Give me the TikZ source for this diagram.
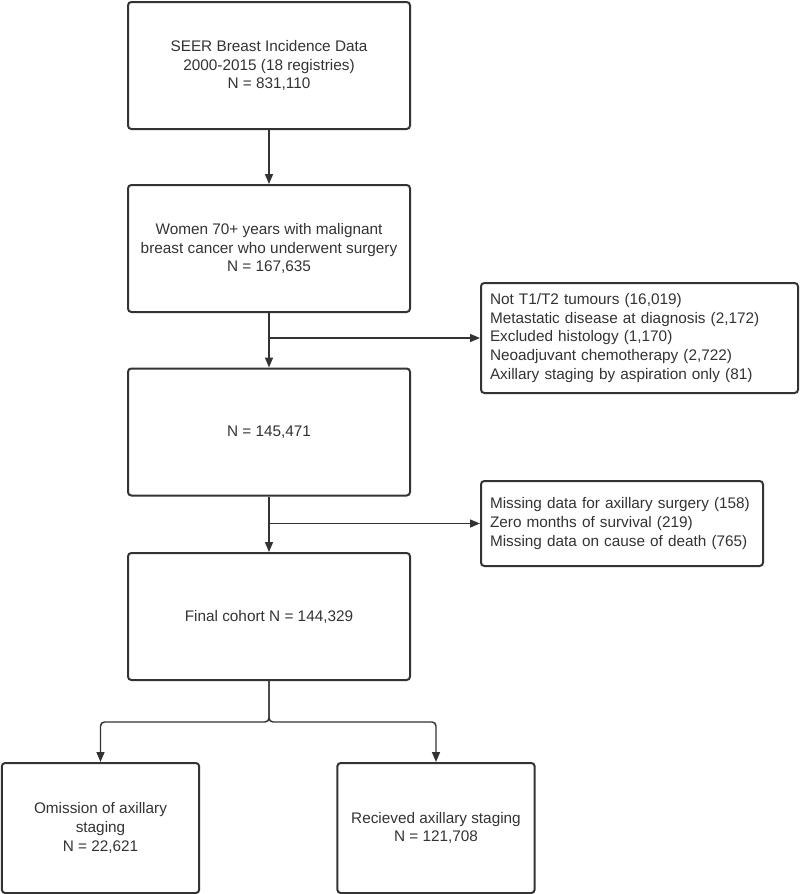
\documentclass[tikz,border=0pt]{standalone}
\usepackage{fontspec}
\setmainfont{Liberation Sans}
\usepackage{xcolor}
\usetikzlibrary{arrows.meta}
\definecolor{ink}{HTML}{333333}
\tikzset{
  box/.style={draw=ink, line width=1.5pt, rounded corners=2.5pt, text=ink,
    align=center, inner sep=0pt, font=\fontsize{11.5}{14.1}\selectfont},
  bigbox/.style={box, minimum width=211.5pt, minimum height=95.25pt},
  xbox/.style={box, align=left, inner xsep=6.75pt},
  endbox/.style={box, minimum width=148pt, minimum height=97.5pt},
  link/.style={draw=ink, line width=1.1pt, -{Triangle[length=7.5pt,width=6pt]}}
}

\begin{document}
\begin{tikzpicture}[x=0.75pt,y=-0.75pt]
\useasboundingbox (0,0) rectangle (800,894);
% main column
\node[bigbox] (seer) at (269,65.5) {SEER Breast Incidence Data\\2000-2015 (18 registries)\\N = 831,110};
\node[bigbox] (women) at (269,248.5) {Women 70+ years with malignant\\breast cancer who underwent surgery\\N = 167,635};
\node[bigbox] (elig) at (269,432) {N = 145,471};
\node[bigbox] (final) at (269,616.5) {Final cohort N = 144,329};
% exclusions
\node[xbox, text width=224.25pt, minimum height=82.5pt] (excl1) at (639.5,338) {Not T1/T2 tumours (16,019)\\Metastatic disease at diagnosis (2,172)\\Excluded histology (1,170)\\Neoadjuvant chemotherapy (2,722)\\Axillary staging by aspiration only (81)};
\node[xbox, text width=198pt, minimum height=63.75pt] (excl2) at (622,523.5) {Missing data for axillary surgery (158)\\Zero months of survival (219)\\Missing data on cause of death (765)};
% outcome
\node[endbox] (omit) at (100.5,828) {Omission of axillary\\staging\\N = 22,621};
\node[endbox] (recv) at (436,828) {Recieved axillary staging\\N = 121,708};

\coordinate (cut1) at (women.south |- excl1.west);
\coordinate (cut2) at (elig.south |- excl2.west);
\coordinate (split) at (269,722);

\draw[link] (seer) -- (women);
\draw[link] (women) -- (elig);
\draw[link] (elig) -- (final);
\draw[link] (cut1) -- (excl1.west);
\draw[link] (cut2) -- (excl2.west);
\draw[link, rounded corners=3pt] (final) -- (split) -| (omit);
\draw[link, rounded corners=3pt] (final) -- (split) -| (recv);
\end{tikzpicture}
\end{document}
